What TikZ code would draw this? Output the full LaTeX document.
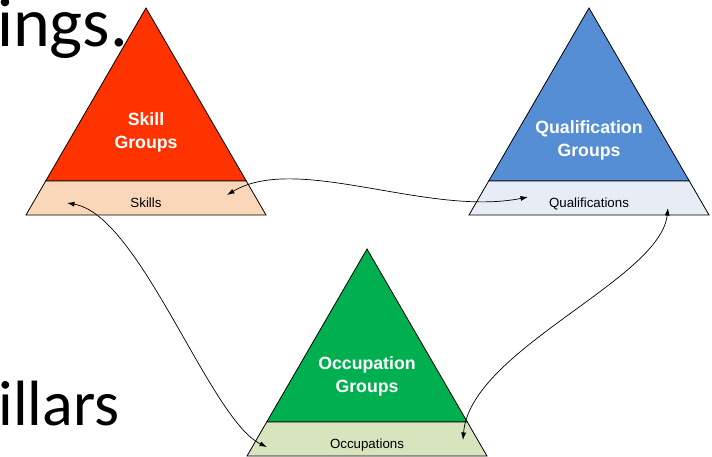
\documentclass[tikz,border=0pt]{standalone}
\usepackage{fontspec}
\setmainfont{Liberation Sans}
\newfontfamily\slidefont{Carlito}
\usetikzlibrary{arrows.meta}
\usepackage{xcolor}
\definecolor{skillred}{HTML}{FF3300}
\definecolor{skillband}{HTML}{FAD7B8}
\definecolor{qualblue}{HTML}{558ED5}
\definecolor{qualband}{HTML}{E8EDF5}
\definecolor{occgreen}{HTML}{00B050}
\definecolor{occband}{HTML}{D7E4BD}

\begin{document}
\begin{tikzpicture}[x=1pt, y=-1pt,
    link/.style={{Latex[length=7.5pt,width=5pt]}-{Latex[length=7.5pt,width=5pt]}, line width=0.7pt},
    grouptitle/.style={text=white, font=\bfseries\fontsize{17.7}{23}\selectfont, align=center},
    bandlabel/.style={font=\fontsize{13.3}{16}\selectfont, anchor=base}]
    \useasboundingbox (0,0) rectangle (712,456);

    % slide text behind the diagram
    \node[anchor=base west, inner sep=0, font=\slidefont\fontsize{70}{84}\selectfont] (slide-title) at (-3,46.7) {ings.};
    \node[anchor=base west, inner sep=0, font=\slidefont\fontsize{64}{77}\selectfont] (slide-body) at (-1.6,425) {illars};

    \foreach \pyr/\x/\y/\ty/\fillc/\bandc/\grp/\things in {skill/146/8/124/skillred/skillband/Skill/Skills,
        qual/589/8/132/qualblue/qualband/Qualification/Qualifications,
        occ/367/249/127.5/occgreen/occband/Occupation/Occupations}{
        \draw[line width=0.8pt, fill=\fillc] (\x,\y) -- ++(-100.3,173) -- ++(200.6,0) -- cycle;
        \draw[line width=0.8pt, fill=\bandc] (\x-100.3,\y+173) -- ++(-19.7,34) -- ++(240,0) -- ++(-19.7,-34) -- cycle;
        \node[grouptitle] (\pyr-title) at (\x,\y+\ty) {\grp\\Groups};
        \node[bandlabel] (\pyr-items) at (\x,\y+199) {\things};
    }

    \coordinate (skill-q) at (227,195);
    \coordinate (skill-o) at (67,203);
    \coordinate (qual-s) at (528,197);
    \coordinate (qual-o) at (668,208);
    \coordinate (occ-s) at (267,447);
    \coordinate (occ-q) at (463,440);

    \draw[link] (skill-q) .. controls (297,153) and (428,217) .. (qual-s);
    \draw[link] (skill-o) .. controls (140,215) and (210,420) .. (occ-s);
    \draw[link] (qual-o) .. controls (660,280) and (470,350) .. (occ-q);
\end{tikzpicture}
\end{document}
